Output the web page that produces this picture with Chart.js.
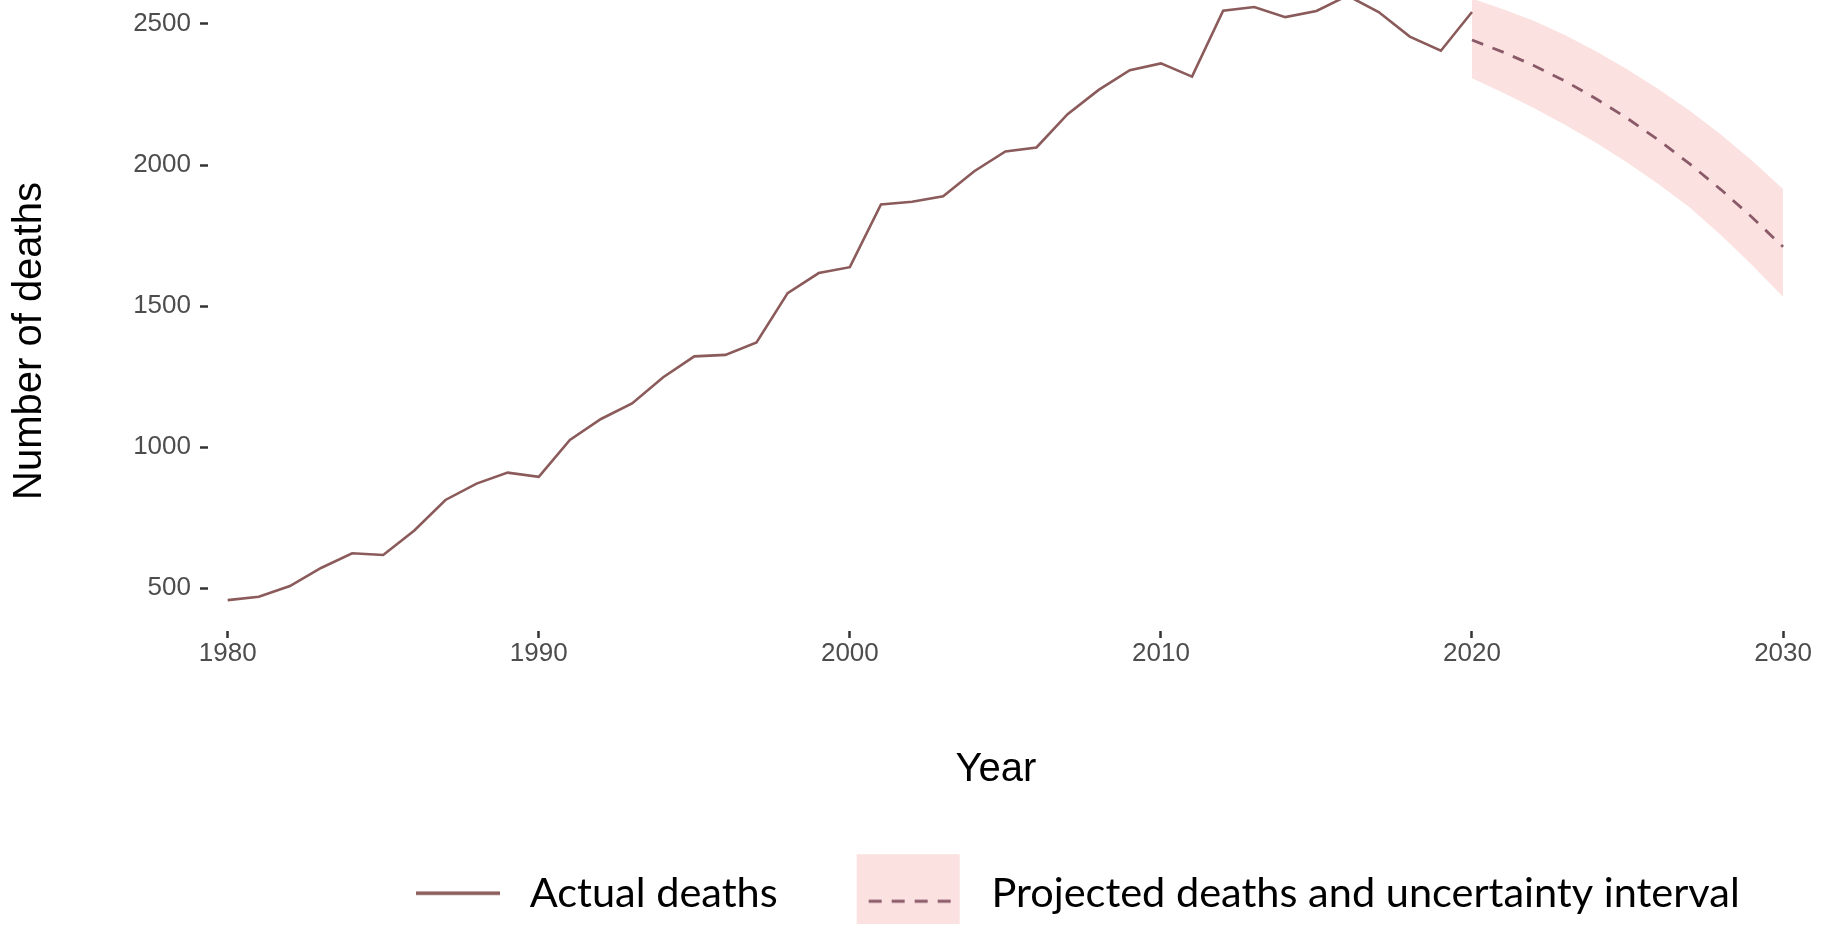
<!DOCTYPE html>
<html>
<head>
<meta charset="utf-8">
<script src="https://cdn.jsdelivr.net/npm/chart.js@4.4.1/dist/chart.umd.min.js"></script>
<style>
  html, body { margin: 0; padding: 0; background: #ffffff; }
  #wrap { width: 1823px; height: 942px; }
</style>
</head>
<body>
<div id="wrap"><canvas id="deaths" width="1823" height="942"></canvas></div>
<script>
// Recorded deaths per year
const actualYears = [1980, 1981, 1982, 1983, 1984, 1985, 1986, 1987, 1988, 1989,
                     1990, 1991, 1992, 1993, 1994, 1995, 1996, 1997, 1998, 1999,
                     2000, 2001, 2002, 2003, 2004, 2005, 2006, 2007, 2008, 2009,
                     2010, 2011, 2012, 2013, 2014, 2015, 2016, 2017, 2018, 2019, 2020];
const actualDeaths = [458, 470, 508, 572, 624, 618, 705, 813, 871, 910,
                      895, 1026, 1100, 1155, 1248, 1322, 1327, 1371, 1546, 1617,
                      1638, 1860, 1870, 1889, 1978, 2048, 2062, 2180, 2266, 2336,
                      2360, 2313, 2547, 2560, 2524, 2546, 2600, 2542, 2455, 2405, 2542];

// Projection with its uncertainty interval
const projYears  = [2020, 2021, 2022, 2023, 2024, 2025, 2026, 2027, 2028, 2029, 2030];
const projDeaths = [2443, 2400, 2352, 2297, 2234, 2165, 2088, 2004, 1913, 1815, 1710];
const projLower  = [2307, 2256, 2201, 2142, 2078, 2008, 1932, 1849, 1752, 1646, 1533];
const projUpper  = [2590, 2552, 2510, 2460, 2402, 2338, 2268, 2192, 2108, 2016, 1915];

// Axis tick labels
const xTicks = [1980, 1990, 2000, 2010, 2020, 2030];
const yTicks = [500, 1000, 1500, 2000, 2500];

const seriesLabels = ['Actual deaths', 'Projected deaths and uncertainty interval'];

// Layout constants (pixels)
const PLOT_LEFT = 208;
const PLOT_BOTTOM = 631;
const PAD_RIGHT = 39;
const PAD_BOTTOM = 18;
const LEGEND_FONT = 41.5;
const LEGEND_GAP = 68;
const LEGEND_START = 384;
const KEY_W = 125;
const KEY_H = 94;

const lineColor = '#8b5a5a';
const dashColor = '#8a5a68';
const bandColor = '#fce1e1';

const toPoints = (xs, ys) => xs.map((x, i) => ({ x: x, y: ys[i] }));

// Legend key swatches
function makeActualKey() {
  const c = document.createElement('canvas');
  c.width = KEY_W; c.height = KEY_H;
  const g = c.getContext('2d');
  g.strokeStyle = lineColor;
  g.lineWidth = 3.5;
  g.beginPath();
  g.moveTo(32, KEY_H / 2);
  g.lineTo(116, KEY_H / 2);
  g.stroke();
  return c;
}
function makeProjectedKey() {
  const c = document.createElement('canvas');
  c.width = KEY_W; c.height = KEY_H;
  const g = c.getContext('2d');
  g.fillStyle = bandColor;
  g.fillRect(11, 8, 103, 85);
  g.strokeStyle = dashColor;
  g.lineWidth = 3;
  g.setLineDash([13, 10]);
  g.beginPath();
  g.moveTo(23, 55);
  g.lineTo(114, 55);
  g.stroke();
  return c;
}
const actualKey = makeActualKey();
const projectedKey = makeProjectedKey();

// Places the legend row and the rotated y-axis title
const legendPlacement = {
  id: 'legendPlacement',
  afterLayout(chart) {
    const lg = chart.legend;
    if (!lg) return;
    lg.left = LEGEND_START - LEGEND_GAP;
    lg.right = chart.width + 600;
  }
};
const yAxisTitle = {
  id: 'yAxisTitle',
  afterDraw(chart) {
    const ctx = chart.ctx;
    ctx.save();
    ctx.translate(30, 341);
    ctx.rotate(-Math.PI / 2);
    ctx.font = '40px "Liberation Sans", Arial, sans-serif';
    ctx.fillStyle = '#000000';
    ctx.textAlign = 'center';
    ctx.textBaseline = 'middle';
    ctx.fillText('Number of deaths', 0, 0);
    ctx.restore();
  }
};

new Chart(document.getElementById('deaths'), {
  type: 'line',
  data: {
    datasets: [
      {
        label: seriesLabels[0],
        data: toPoints(actualYears, actualDeaths),
        borderColor: lineColor,
        borderWidth: 2.6,
        pointRadius: 0,
        fill: false,
        tension: 0
      },
      {
        label: seriesLabels[1],
        data: toPoints(projYears, projDeaths),
        borderColor: dashColor,
        borderWidth: 2.8,
        borderDash: [12, 10],
        pointRadius: 0,
        fill: false,
        tension: 0
      },
      {
        label: 'lower',
        data: toPoints(projYears, projLower),
        borderColor: 'rgba(0,0,0,0)',
        borderWidth: 0,
        pointRadius: 0,
        fill: false
      },
      {
        label: 'upper',
        data: toPoints(projYears, projUpper),
        borderColor: 'rgba(0,0,0,0)',
        backgroundColor: bandColor,
        borderWidth: 0,
        pointRadius: 0,
        fill: '-1'
      }
    ]
  },
  options: {
    responsive: false,
    animation: false,
    events: [],
    layout: { padding: { left: 0, top: 0, right: PAD_RIGHT, bottom: PAD_BOTTOM } },
    scales: {
      x: {
        type: 'linear',
        min: 1979.367,
        max: 2030.03,
        afterBuildTicks: (s) => { s.ticks = xTicks.map(v => ({ value: v })); },
        afterFit: (s) => {
          s.height = s.chart.height - PAD_BOTTOM - s.chart.legend.height - PLOT_BOTTOM;
          s.paddingLeft = 0; s.paddingRight = 0;
        },
        ticks: {
          autoSkip: false,
          maxRotation: 0,
          padding: 0,
          color: '#4d4d4d',
          font: { family: '"Liberation Sans", Arial, sans-serif', size: 26 },
          callback: (v) => String(v)
        },
        grid: { display: true, drawOnChartArea: false, drawTicks: true, tickLength: 7, tickWidth: 2.5, tickColor: '#333333' },
        border: { display: false },
        title: {
          display: true,
          text: 'Year',
          color: '#000000',
          padding: { top: 0, bottom: 14.5 },
          font: { family: '"Liberation Sans", Arial, sans-serif', size: 40, lineHeight: 1 }
        }
      },
      y: {
        type: 'linear',
        min: 348.7,
        max: 2584.7,
        afterBuildTicks: (s) => { s.ticks = yTicks.map(v => ({ value: v })); },
        afterFit: (s) => {
          s.width = PLOT_LEFT;
          s.paddingTop = 0; s.paddingBottom = 0;
        },
        ticks: {
          padding: 9,
          color: '#4d4d4d',
          font: { family: '"Liberation Sans", Arial, sans-serif', size: 26 },
          callback: (v) => String(v)
        },
        grid: { display: true, drawOnChartArea: false, drawTicks: true, tickLength: 8, tickWidth: 2.5, tickColor: '#333333' },
        border: { display: false },
        title: { display: false }
      }
    },
    plugins: {
      tooltip: { enabled: false },
      legend: {
        display: true,
        position: 'bottom',
        align: 'start',
        labels: {
          usePointStyle: true,
          pointStyleWidth: KEY_W,
          boxHeight: LEGEND_FONT,
          padding: LEGEND_GAP,
          color: '#000000',
          font: { family: 'Lato, "Liberation Sans", sans-serif', size: LEGEND_FONT },
          generateLabels: () => [
            { text: seriesLabels[0], pointStyle: actualKey, fillStyle: 'rgba(0,0,0,0)', strokeStyle: 'rgba(0,0,0,0)', lineWidth: 0, hidden: false, datasetIndex: 0 },
            { text: seriesLabels[1], pointStyle: projectedKey, fillStyle: 'rgba(0,0,0,0)', strokeStyle: 'rgba(0,0,0,0)', lineWidth: 0, hidden: false, datasetIndex: 1 }
          ]
        }
      }
    }
  },
  plugins: [legendPlacement, yAxisTitle]
});
</script>
</body>
</html>
